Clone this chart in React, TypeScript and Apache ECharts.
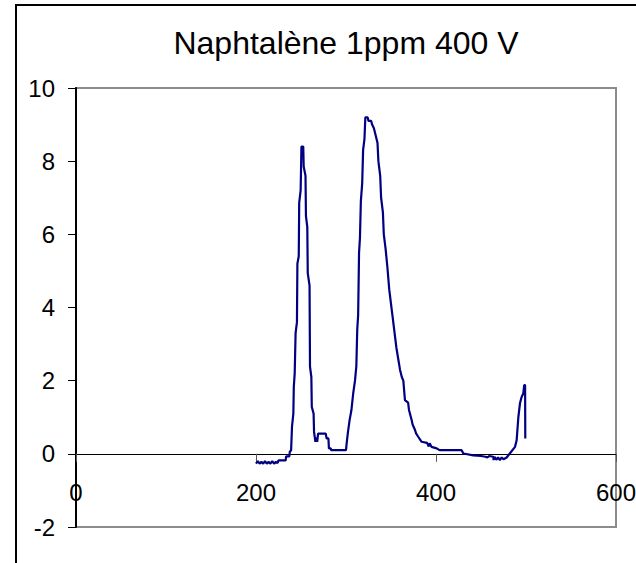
import React, { useEffect, useRef } from "react";
import * as echarts from "echarts";

const TITLE = "Naphtalène 1ppm 400 V";
const X_TICKS = [0, 200, 400, 600];
const Y_TICKS = [-2, 0, 2, 4, 6, 8, 10];

const xValues = [
  200, 202, 204, 206, 208, 210, 212, 214, 216, 218, 220, 222, 224, 225, 233, 233.5, 237, 237.5, 239,
  240, 241.5, 242, 243, 244, 245.5, 246, 247.5, 248, 249.6, 250.5, 252.5, 253, 255, 255.5, 257, 257.5,
  259.5, 260, 261.5, 262, 264, 264.5, 266, 266.7, 268, 269, 277.5, 278.5, 280.5, 281, 283, 283.5, 300,
  300.7, 302, 304, 306, 308, 310, 311.5, 312.5, 313.5, 314.5, 315.5, 316.5, 318, 319, 320.5, 321.5, 324,
  325, 328, 329, 331, 333, 335, 336, 338, 339, 341, 342, 344, 346, 348, 350, 352, 354, 356, 358, 360,
  362, 363.7, 365.5, 369, 370, 373, 374, 376.7, 378, 380.4, 382, 384, 390, 392, 393, 395, 400.7, 404,
  428.5, 430.4, 441.5, 450, 455, 457, 459, 463.7, 464, 465, 467, 469, 471, 473, 475, 478.5, 482, 487.8,
  489.6, 491.5, 493.3, 495.2, 497, 498, 499, 499.2,
];
const yValues = [
  -0.27, -0.2, -0.27, -0.22, -0.27, -0.2, -0.27, -0.22, -0.27, -0.2, -0.27, -0.22, -0.25, -0.18, -0.18, -0.07, -0.07, 0.05, 0.1,
  0.74, 1.1, 1.83, 2.2, 3.3, 3.6, 5.2, 5.4, 6.86, 7.2, 8.4, 8.4, 7.85, 7.6, 6.5, 6.2, 4.94,
  4.6, 2.38, 2.1, 1.28, 1.1, 0.6, 0.33, 0.45, 0.33, 0.55, 0.55, 0.42, 0.42, 0.15, 0.15, 0.1, 0.1,
  0.28, 0.56, 0.92, 1.19, 1.65, 2.0, 2.4, 3.4, 3.8, 5.5, 5.9, 6.9, 7.4, 8.3, 8.6, 9.2, 9.2,
  9.1, 9.1, 9.0, 8.9, 8.7, 8.5, 8.0, 7.6, 7.0, 6.6, 6.0, 5.6, 5.1, 4.5, 4.1, 3.7, 3.3, 2.9, 2.6, 2.3,
  2.1, 2.0, 1.47, 1.4, 1.2, 0.92, 0.8, 0.65, 0.55, 0.46, 0.4, 0.33, 0.3, 0.2, 0.29, 0.19, 0.15, 0.1,
  0.1, 0.01, -0.04, -0.06, -0.08, -0.1, -0.06, -0.08, -0.17, -0.08, -0.16, -0.1, -0.17, -0.1, -0.15, -0.1, 0.01, 0.19,
  0.37, 1.0, 1.38, 1.56, 1.65, 1.88, 1.88, 0.42,
];

const FONT = "'Liberation Sans', Arial, sans-serif";

export default function App() {
  const ref = useRef<HTMLDivElement>(null);
  useEffect(() => {
    if (!ref.current) return;
    const chart = echarts.init(ref.current, null, { renderer: "svg" });
    const data = xValues.map((x, i) => [x, yValues[i]]);
    chart.setOption({
      animation: false,
      backgroundColor: "#ffffff",
      title: {
        text: TITLE,
        left: 341,
        top: 22,
        textAlign: "center",
        textStyle: { fontFamily: FONT, fontSize: 32, fontWeight: "normal", color: "#000" },
      },
      graphic: [
        {
          type: "rect",
          shape: { x: 16, y: 5, width: 800, height: 800 },
          style: { fill: "none", stroke: "#000", lineWidth: 2 },
          silent: true,
        },
      ],
      grid: {
        left: 76,
        top: 88,
        right: 20,
        bottom: 36,
        show: true,
        borderColor: "#8c8c8c",
        borderWidth: 2,
        containLabel: false,
        outerBoundsMode: "none",
      },
      xAxis: {
        type: "value",
        min: X_TICKS[0],
        max: X_TICKS[X_TICKS.length - 1],
        interval: 200,
        axisLine: { show: true, onZero: true, lineStyle: { color: "#000", width: 1 } },
        axisTick: { show: true, length: 8, lineStyle: { color: "#555", width: 1 } },
        axisLabel: {
          margin: -47,
          fontFamily: FONT,
          fontSize: 24,
          color: "#000",
          showMinLabel: true,
          showMaxLabel: true,
        },
        splitLine: { show: false },
      },
      yAxis: {
        type: "value",
        min: Y_TICKS[0],
        max: Y_TICKS[Y_TICKS.length - 1],
        interval: 2,
        axisLine: { show: true, onZero: false, lineStyle: { color: "#000", width: 2 } },
        axisTick: { show: true, length: 8, lineStyle: { color: "#000", width: 1 } },
        axisLabel: { margin: 21, fontFamily: FONT, fontSize: 24, color: "#000" },
        splitLine: { show: false },
      },
      series: [
        {
          type: "line",
          data,
          showSymbol: false,
          symbol: "none",
          lineStyle: { color: "#000080", width: 2.2 },
          z: 3,
        },
      ],
    });
    return () => chart.dispose();
  }, []);
  return (
    <div
      ref={ref}
      style={{ position: "absolute", left: 0, top: 0, width: 636, height: 563 }}
    />
  );
}
